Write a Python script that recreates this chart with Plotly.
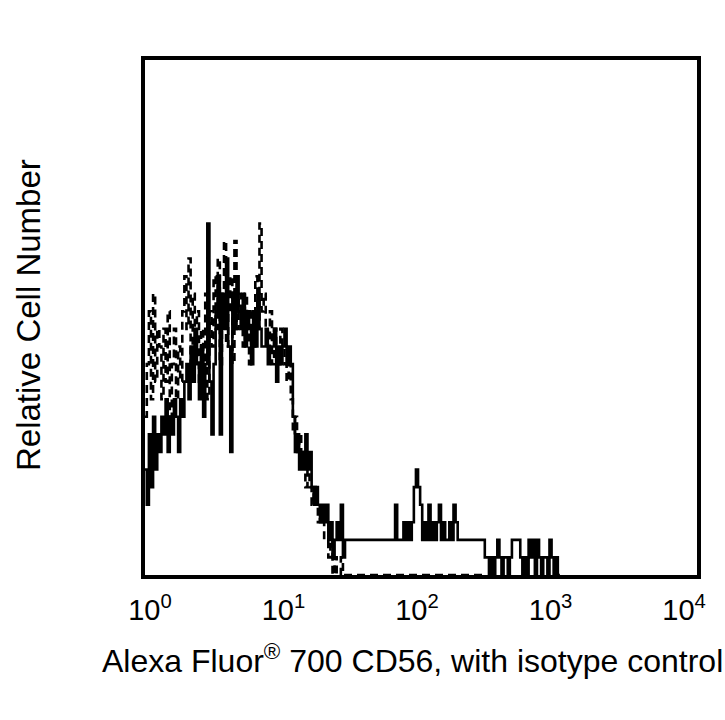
import numpy as np
import plotly.graph_objects as go

# ---------------- data (counts per channel, 64 channels / decade) ----------------
CHANNELS_PER_DECADE = 64
FIRST_CHANNEL = -2

cd56_counts = [
    6, 4, 8, 5, 9, 6, 8,
    7, 9, 8, 10, 7, 9, 8, 10, 9, 7, 10, 9, 11,
    12, 10, 13, 11, 14, 12, 10,
    13, 9, 12, 20, 11, 8, 12,
    15, 17, 8, 16, 14, 18, 13, 7, 16, 14, 17, 15,
    14, 16, 13, 15, 14, 12, 15, 13, 16, 14, 13,
    13, 14, 12, 13, 13, 14, 11, 13, 12, 13, 14, 12, 13,
    12, 9, 7, 8, 6,
    7, 6, 8, 6, 7, 5,
    4, 5, 4, 3, 4,
    3, 4, 2, 3, 1, 2, 3, 2, 4, 1,
    2, 2, 2, 2, 2, 2, 2, 2, 2, 2, 2, 2, 2, 2, 2, 2, 2, 2, 2, 2, 2, 2, 2, 2,
    4, 2, 2, 2, 3, 2, 3, 2, 3, 5, 6, 5, 4, 2, 3, 2, 4, 2, 3, 2, 3, 4, 2, 3, 2, 2, 3, 2, 4, 3, 2,
    2, 2, 2, 2, 2, 2, 2, 2, 2, 2, 2, 2,
    1, 1, 0, 1, 0, 1, 2, 1, 0, 1, 1, 0, 1, 2, 2, 2, 2, 1, 0, 1, 0, 2, 1, 2, 0, 2, 1, 0, 1, 1, 0, 2, 1, 0, 1, 0,
]

isotype_counts = [
    9, 12, 15, 10, 16, 11, 14,
    13, 10, 14, 11, 15, 9, 12, 14, 10, 13, 11, 15, 17,
    14, 18, 12, 16, 13, 15, 11,
    14, 12, 16, 10, 15, 13, 17,
    14, 18, 12, 16, 19, 13, 15, 17, 12, 19, 14, 16,
    15, 13, 16, 14, 12, 15, 13, 17, 14, 20, 15,
    16, 14, 13, 15, 12, 14, 13, 12, 14, 13, 12, 11, 12,
    10, 8, 9, 7, 8,
    6, 7, 5, 6, 5, 4,
    5, 4, 3, 4, 3,
    2, 2, 1, 2, 0, 1, 0, 0, 1, 0,
    0, 0, 0, 0, 0, 0, 0, 0, 0, 0, 0, 0, 0, 0, 0, 0, 0, 0, 0, 0,
    0, 0, 0, 0, 0, 0, 0, 0, 0, 0, 0, 0, 0, 0, 0, 0, 0, 0, 0, 0,
    0, 0, 0, 0, 0, 0, 0, 0, 0, 0, 0, 0, 0, 0, 0, 0, 0, 0, 0, 0,
    0, 0, 0, 0, 0, 0, 0,
]

tick_values = [1, 10, 100, 1000, 10000]
tick_labels = ["10<sup>0</sup>", "10<sup>1</sup>", "10<sup>2</sup>", "10<sup>3</sup>", "10<sup>4</sup>"]

x_title = "Alexa Fluor<sup>®</sup> 700 CD56, with isotype control"
y_title = "Relative Cell Number"


def step_xy(counts):
    ch = np.arange(FIRST_CHANNEL, FIRST_CHANNEL + len(counts) + 1)
    x = 10 ** ((ch - 0.5) / CHANNELS_PER_DECADE)
    y = list(counts) + [counts[-1]]
    return x, y


FONT = "Arial, 'Liberation Sans', sans-serif"

fig = go.Figure()
xi, yi = step_xy(isotype_counts)
fig.add_trace(go.Scatter(x=xi, y=yi, mode="lines", line_shape="hv",
                         line=dict(color="black", width=2.6, dash="8px,5px"),
                         name="isotype control", showlegend=False))
xc, yc = step_xy(cd56_counts)
fig.add_trace(go.Scatter(x=xc, y=yc, mode="lines", line_shape="hv",
                         line=dict(color="black", width=2.6),
                         name="CD56", showlegend=False))

fig.update_layout(
    width=725, height=720,
    margin=dict(l=145, r=28, t=60, b=145),
    paper_bgcolor="white", plot_bgcolor="white",
    font=dict(family=FONT, color="black"),
    showlegend=False,
    annotations=[
        dict(text=x_title, xref="paper", yref="paper", x=0.484, y=-0.163,
             xanchor="center", yanchor="middle", showarrow=False,
             font=dict(size=32, family=FONT, color="black")),
        dict(text=y_title, xref="paper", yref="paper", x=-0.21, y=0.505,
             xanchor="center", yanchor="middle", showarrow=False, textangle=-90,
             font=dict(size=33, family=FONT, color="black")),
    ],
)
fig.update_xaxes(
    type="log", range=[-0.037, 4.097],
    showgrid=False, zeroline=False,
    showline=True, mirror=True, linewidth=4, linecolor="black",
    tickmode="array", tickvals=tick_values, ticktext=tick_labels,
    ticks="outside", ticklen=6, tickcolor="rgba(0,0,0,0)",
    tickfont=dict(size=29, family=FONT, color="black"),
)
fig.update_yaxes(
    range=[0, 29.3],
    showgrid=False, zeroline=False,
    showline=True, mirror=True, linewidth=4, linecolor="black",
    showticklabels=False, ticks="",
)

fig.write_html("out.html")
